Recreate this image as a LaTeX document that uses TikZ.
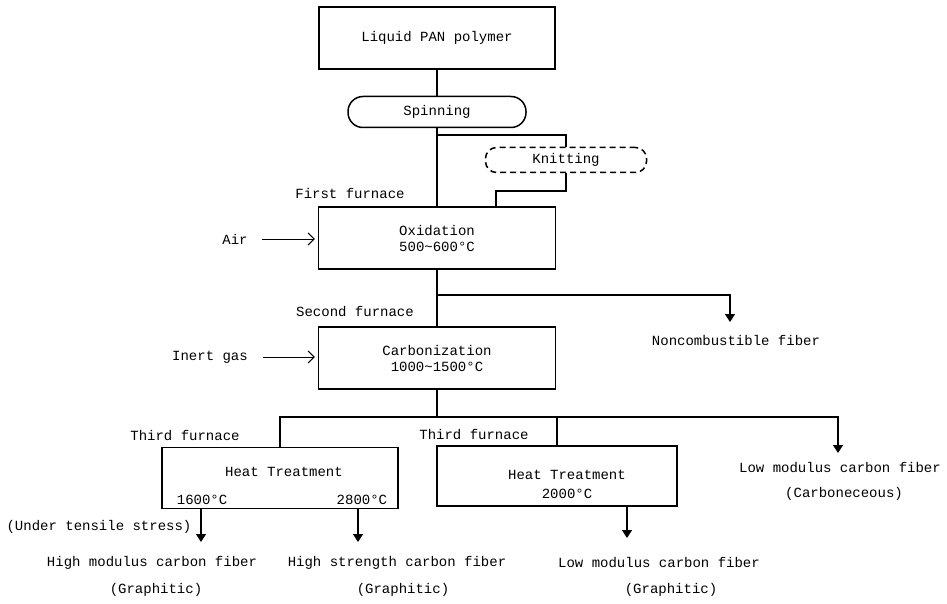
\documentclass[tikz,border=0pt]{standalone}
\usepackage{fontspec}
\setmainfont{Liberation Mono}
\usetikzlibrary{arrows.meta,positioning}
\begin{document}
\begin{tikzpicture}[x=1pt,y=-1pt,line width=1.1pt,font=\fontsize{14}{16}\selectfont,
    box/.style={draw, line width=1.5pt, inner sep=2pt, align=center},
    feed/.style={-{Straight Barb[length=6pt,width=12pt]}, line width=1pt},
    drop/.style={-{Triangle[length=8pt,width=10pt]}, line width=1.1pt}]
    \useasboundingbox (0,0) rectangle (947,604);
    \node[box, minimum width=236pt, minimum height=62pt] (pan) at (437,38) {Liquid PAN polymer};
    \node[box, rounded corners=15pt, minimum width=178pt, minimum height=31pt] (spin) at (437,112) {Spinning};
    \node[box, dashed, dash pattern=on 6pt off 4pt, rounded corners=11pt, minimum width=161pt, minimum height=25pt] (knit) at (566,160) {Knitting};
    \node[box, minimum width=237pt, minimum height=62pt] (oxid) at (437,238) {Oxidation\\500\textasciitilde600°C};
    \node[box, minimum width=237pt, minimum height=62pt] (carb) at (437,358) {Carbonization\\1000\textasciitilde1500°C};
    \node[box, minimum width=236pt, minimum height=61pt] (ht1) at (280,478) {};
    \node[box, minimum width=240pt, minimum height=60pt] (ht2) at (557,476) {};
    \node (ht1t) at (284,472) {Heat Treatment};
    \node[anchor=west] (ht1a) at (173,500) {1600°C};
    \node[anchor=east] (ht1b) at (391,500) {2800°C};
    \node[align=center] (ht2t) at (567,484) {Heat Treatment\\[3pt]2000°C};
    \node (air) at (235,239) {Air};
    \node (inert) at (210,357) {Inert gas};
    \node (ff) at (350,193) {First furnace};
    \node (sf) at (355,312) {Second furnace};
    \node (tf1) at (185,436) {Third furnace};
    \node (tf2) at (474,435) {Third furnace};
    \node (nc) at (736,340) {Noncombustible fiber};
    \node (lmc) at (840,468) {Low modulus carbon fiber};
    \node (lmcg) at (844,494) {(Carboneceous)};
    \node (uts) at (99,527) {(Under tensile stress)};
    \node (hm) at (152,563) {High modulus carbon fiber};
    \node (hmg) at (156,590) {(Graphitic)};
    \node (hs) at (397,563) {High strength carbon fiber};
    \node (hsg) at (403,590) {(Graphitic)};
    \node (lm) at (659,563) {Low modulus carbon fiber};
    \node (lmg) at (671,590) {(Graphitic)};
    \coordinate (k1) at (437,135);
    \coordinate (k2) at (496,191);
    \coordinate (b1) at (437,295);
    \coordinate (b2) at (437,417);
    \coordinate (ncTip) at (730,322);
    \coordinate (lmcTip) at (838,453);
    \coordinate (hmTip) at (201,542);
    \coordinate (hsTip) at (358,542);
    \coordinate (lmTip) at (627,538);
    \draw (pan) -- (spin);
    \draw (spin) -- (oxid);
    \draw (k1) -| (knit.north);
    \draw (knit.south) |- (k2) -- (k2 |- oxid.north);
    \draw[feed, shorten <=11pt, shorten >=3pt] (air.east) -- (air.east -| oxid.west);
    \draw (oxid) -- (carb);
    \draw[drop] (b1) -| (ncTip);
    \draw[feed, shorten <=11pt, shorten >=3pt] (inert.east) -- (inert.east -| carb.west);
    \draw (carb.south) -- (b2);
    \draw (ht1.north) |- (b2);
    \draw[drop] (b2) -| (lmcTip);
    \draw (ht2.north) -- (ht2.north |- b2);
    \draw[drop] (ht1.south -| hmTip) -- (hmTip);
    \draw[drop] (ht1.south -| hsTip) -- (hsTip);
    \draw[drop] (ht2.south -| lmTip) -- (lmTip);
\end{tikzpicture}
\end{document}
